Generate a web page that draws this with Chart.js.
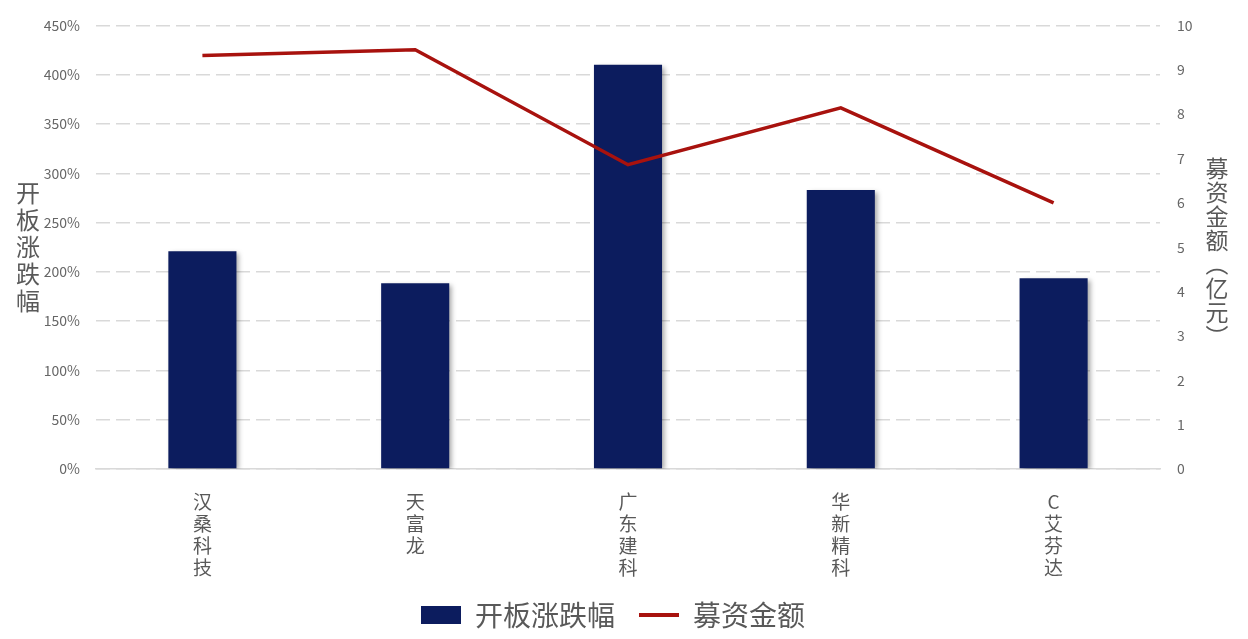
<!DOCTYPE html>
<html>
<head>
<meta charset="utf-8">
<script src="https://cdn.jsdelivr.net/npm/chart.js@4/dist/chart.umd.min.js"></script>
<style>
html,body{margin:0;padding:0;background:#fff;}
#wrap{width:1248px;height:639px;position:relative;}
</style>
</head>
<body>
<div id="wrap"><canvas id="c" width="1248" height="639"></canvas></div>
<script>
// ---- data ----
const categories = ['汉桑科技', '天富龙', '广东建科', '华新精科', 'C艾芬达'];
const openChange = [221, 188.5, 410, 283, 193.5];      // 开板涨跌幅 (%)
const raisedFunds = [9.32, 9.45, 6.86, 8.14, 6.0];       // 募资金额 (亿元)
const leftTitle = '开板涨跌幅';
const rightTitle = '募资金额（亿元）';
const seriesNames = ['开板涨跌幅', '募资金额'];

const FONT = '"Noto Sans CJK SC", "Noto Sans", sans-serif';
const TXT = '#595959';

const barShadow = {
  id: 'barShadow',
  beforeDatasetDraw(chart, args) {
    if (args.index !== 0) return;
    const ctx = chart.ctx;
    ctx.save();
    ctx.shadowColor = 'rgba(0,0,0,0.35)';
    ctx.shadowBlur = 5;
    ctx.shadowOffsetX = 3;
    ctx.shadowOffsetY = 2;
  },
  afterDatasetDraw(chart, args) {
    if (args.index !== 0) return;
    chart.ctx.restore();
  }
};

const verticalTitles = {
  id: 'verticalTitles',
  afterDraw(chart) {
    const ctx = chart.ctx;
    const mid = (chart.chartArea.top + chart.chartArea.bottom) / 2;
    ctx.save();
    ctx.fillStyle = TXT;
    ctx.textAlign = 'center';
    ctx.textBaseline = 'middle';
    // left
    ctx.font = '24px ' + FONT;
    const lc = Array.from(leftTitle);
    const lp = 27;
    lc.forEach((ch, i) => {
      ctx.fillText(ch, 28, mid + (i - (lc.length - 1) / 2) * lp);
    });
    // right
    ctx.font = '23px ' + FONT;
    const rc = Array.from(rightTitle);
    const rp = 24;
    rc.forEach((ch, i) => {
      const y = mid + 5 + (i - (rc.length - 1) / 2) * rp;
      if (ch === '（' || ch === '）') {
        ctx.save();
        ctx.translate(1217, y);
        ctx.rotate(Math.PI / 2);
        ctx.fillText(ch, 0, 0);
        ctx.restore();
      } else {
        ctx.fillText(ch, 1217, y);
      }
    });
    ctx.restore();
  }
};

new Chart(document.getElementById('c'), {
  data: {
    labels: categories.map(s => Array.from(s)),
    datasets: [
      {
        type: 'bar',
        label: seriesNames[0],
        data: openChange,
        backgroundColor: '#0c1c5e',
        borderWidth: 0,
        barPercentage: 0.32,
        categoryPercentage: 1,
        yAxisID: 'y',
        order: 1
      },
      {
        type: 'line',
        label: seriesNames[1],
        data: raisedFunds,
        borderColor: '#a8120e',
        backgroundColor: '#a8120e',
        borderWidth: 3.5,
        pointRadius: 0,
        tension: 0,
        yAxisID: 'y1',
        order: 0
      }
    ]
  },
  options: {
    responsive: false,
    animation: false,
    events: [],
    layout: { padding: { top: 25, right: 22, bottom: 0, left: 0 } },
    plugins: {
      tooltip: { enabled: false },
      legend: {
        position: 'bottom',
        labels: {
          usePointStyle: true,
          pointStyleWidth: 40,
          boxWidth: 40,
          boxHeight: 18,
          padding: 24,
          color: TXT,
          font: { size: 28, family: FONT },
          sort: (a, b) => a.datasetIndex - b.datasetIndex,
          generateLabels(chart) {
            const items = Chart.defaults.plugins.legend.labels.generateLabels(chart);
            items.forEach(it => {
              if (it.datasetIndex === 0) {
                it.pointStyle = 'rect';
                it.lineWidth = 0;
                it.fillStyle = '#0c1c5e';
                it.strokeStyle = '#0c1c5e';
              } else {
                it.pointStyle = 'line';
                it.lineWidth = 4;
                it.strokeStyle = '#a8120e';
              }
            });
            return items;
          }
        }
      }
    },
    scales: {
      x: {
        grid: { display: false },
        border: { display: true, color: '#d9d9d9', width: 1.5 },
        ticks: {
          color: TXT,
          font: { size: 19, family: FONT, lineHeight: 1.15 },
          padding: 14,
          maxRotation: 0,
          autoSkip: false
        },
        afterFit(scale) { scale.height = 108; }
      },
      y: {
        position: 'left',
        min: 0, max: 450,
        grid: { color: '#d9d9d9', lineWidth: 1.5, drawTicks: false },
        border: { display: false, dash: [14, 6] },
        ticks: {
          stepSize: 50,
          color: '#666666',
          padding: 16,
          font: { size: 14, family: FONT },
          callback: v => v + '%'
        },
        afterFit(scale) { scale.width = 96; }
      },
      y1: {
        position: 'right',
        min: 0, max: 10,
        grid: { display: false, drawTicks: false },
        border: { display: false },
        ticks: {
          stepSize: 1,
          color: '#666666',
          padding: 17,
          font: { size: 14, family: FONT }
        },
        afterFit(scale) { scale.width = 66; }
      }
    }
  },
  plugins: [barShadow, verticalTitles]
});
</script>
</body>
</html>
